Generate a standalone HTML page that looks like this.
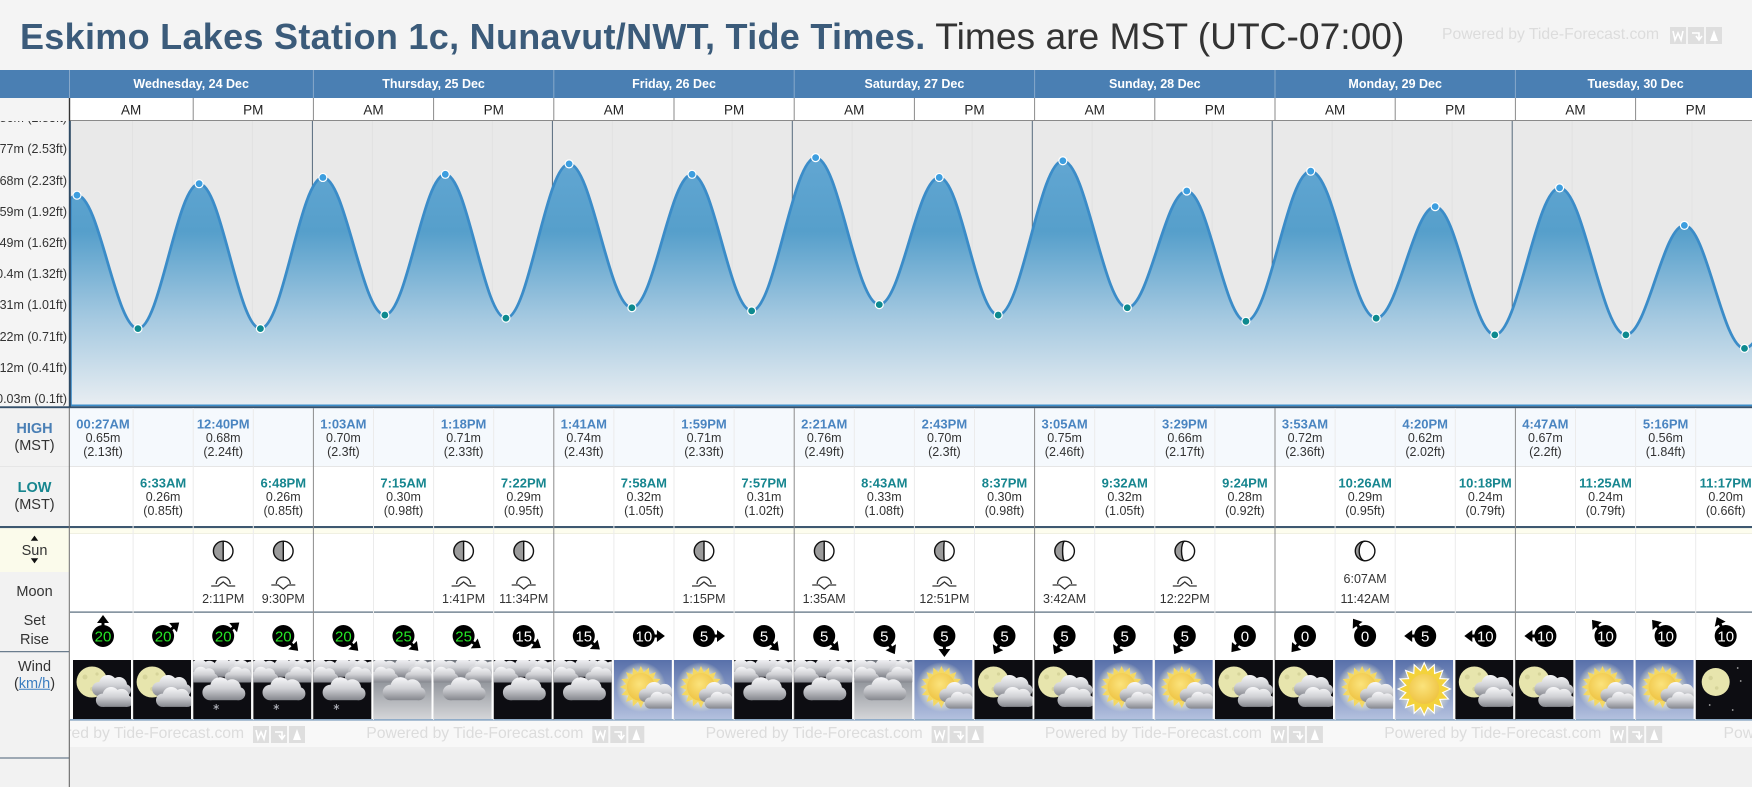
<!DOCTYPE html>
<html><head><meta charset="utf-8">
<style>
html,body{margin:0;padding:0;background:#f4f4f4;}
#r{position:relative;width:1752px;height:787px;overflow:hidden;background:#f4f4f4;font-family:"Liberation Sans",Arial,sans-serif;color:#333;}
.c{position:absolute;transform:translate(-50%,-50%);white-space:nowrap;line-height:1;}
.dh{font-size:12.5px;font-weight:bold;color:#fff;top:84px;}
.ap{font-size:13.5px;color:#222;top:109.5px;}
.ht{font-size:13px;font-weight:bold;color:#4a85c1;}
.lt{font-size:13px;font-weight:bold;color:#17868f;}
.v{font-size:12.5px;color:#333;}
.mt{font-size:12.5px;color:#333;top:599.3px;}
.lb{font-size:14.5px;color:#333;left:34.5px;}
.yl{position:absolute;right:1685px;transform:translateY(-50%);font-size:12.5px;line-height:1;white-space:nowrap;color:#333;}
.pw{position:absolute;font-size:15.7px;color:#dcdcdc;line-height:1;white-space:nowrap;transform:translateY(-50%);}
svg text.wn{font-family:"Liberation Sans",Arial,sans-serif;font-size:15px;fill:#fff;text-anchor:middle;}
svg text.wg{fill:#25e425;}
</style></head>
<body><div id="r">
<svg width="1752" height="787" viewBox="0 0 1752 787" xmlns="http://www.w3.org/2000/svg" style="position:absolute;left:0;top:0">
<defs>
<linearGradient id="ag" gradientUnits="userSpaceOnUse" x1="0" y1="150" x2="0" y2="406">
<stop offset="0" stop-color="#63a7d3"/><stop offset="0.32" stop-color="#569fcb"/><stop offset="0.65" stop-color="#a3c8e0"/><stop offset="1" stop-color="#e9eef2"/></linearGradient>
<clipPath id="cc"><rect x="70" y="121" width="1682" height="285"/></clipPath>
<linearGradient id="cg" gradientUnits="userSpaceOnUse" x1="0" y1="1" x2="0" y2="22"><stop offset="0" stop-color="#f8f8fa"/><stop offset="0.5" stop-color="#cfd0d4"/><stop offset="1" stop-color="#85878e"/></linearGradient>
<linearGradient id="sky" x1="0" y1="0" x2="0" y2="1"><stop offset="0" stop-color="#5870aa"/><stop offset="1" stop-color="#b3c0de"/></linearGradient>
<linearGradient id="ogd" x1="0" y1="0" x2="0" y2="1"><stop offset="0" stop-color="#6d727a"/><stop offset="1" stop-color="#d4d5d8"/></linearGradient>
<radialGradient id="glow"><stop offset="0.45" stop-color="#fffbd0" stop-opacity="1"/><stop offset="1" stop-color="#fffbd0" stop-opacity="0"/></radialGradient>
<radialGradient id="sd" cx="0.45" cy="0.4" r="0.6"><stop offset="0" stop-color="#fbe37c"/><stop offset="1" stop-color="#efc444"/></radialGradient>
<g id="cl" fill="url(#cg)"><circle cx="9" cy="15" r="7"/><circle cx="18" cy="10" r="9"/><circle cx="29" cy="11" r="8"/><circle cx="35" cy="16" r="6"/><rect x="9" y="12" width="26" height="10"/></g>
<polygon id="rays" points="21,0 14.71,2.93 19.4,8.04 12.47,8.33 14.85,14.85 8.33,12.47 8.04,19.4 2.93,14.71 0,21 -2.93,14.71 -8.04,19.4 -8.33,12.47 -14.85,14.85 -12.47,8.33 -19.4,8.04 -14.71,2.93 -21,0 -14.71,-2.93 -19.4,-8.04 -12.47,-8.33 -14.85,-14.85 -8.33,-12.47 -8.04,-19.4 -2.93,-14.71 0,-21 2.93,-14.71 8.04,-19.4 8.33,-12.47 14.85,-14.85 12.47,-8.33 19.4,-8.04 14.71,-2.93"/>
<g id="ovc"><use href="#cl" transform="translate(-10,-2) scale(0.9)"/><use href="#cl" transform="translate(13,-3) scale(0.9)"/><use href="#cl" transform="translate(33,-1) scale(0.85)"/><use href="#cl" transform="translate(-6,6) scale(0.75)"/><use href="#cl" transform="translate(30,6) scale(0.75)"/><use href="#cl" transform="translate(7,16) scale(1.1)"/></g>
<symbol id="mc" viewBox="0 0 58 59"><rect width="58" height="59" fill="#0d0d12"/><circle cx="19" cy="22" r="15.5" fill="#e7e5ad"/><circle cx="12" cy="17" r="2.5" fill="#d6d49a"/><circle cx="19" cy="29" r="2" fill="#d6d49a"/><circle cx="24" cy="14" r="1.6" fill="#d6d49a"/><use href="#cl" transform="translate(17,14)"/><use href="#cl" transform="translate(21,26) scale(0.95)"/></symbol>
<symbol id="oc" viewBox="0 0 58 59"><rect width="58" height="59" fill="#0d0d12"/><use href="#ovc"/></symbol>
<symbol id="ocs" viewBox="0 0 58 59"><rect width="58" height="59" fill="#0d0d12"/><use href="#ovc"/><path d="M23,44V50M20.4,45.5L25.6,48.5M20.4,48.5L25.6,45.5" stroke="#a8aab2" stroke-width="1"/></symbol>
<symbol id="od" viewBox="0 0 58 59"><rect width="58" height="59" fill="url(#ogd)"/><use href="#ovc"/></symbol>
<symbol id="sc" viewBox="0 0 58 59"><rect width="58" height="59" fill="url(#sky)"/><circle cx="27" cy="27" r="25" fill="url(#glow)"/><use href="#rays" transform="translate(27,27)" fill="#f4d862"/><circle cx="27" cy="27" r="14" fill="url(#sd)"/><use href="#cl" transform="translate(23,21) scale(0.95)"/><use href="#cl" transform="translate(29,31) scale(0.8)"/></symbol>
<symbol id="sn" viewBox="0 0 58 59"><rect width="58" height="59" fill="url(#sky)"/><circle cx="29" cy="29" r="28" fill="url(#glow)"/><use href="#rays" transform="translate(29,29) scale(1.25)" fill="#f3d23c" stroke="#fff" stroke-width="0.9"/><circle cx="29" cy="29" r="15" fill="url(#sd)"/></symbol>
<symbol id="mn" viewBox="0 0 58 59"><rect width="58" height="59" fill="#0d0d12"/><circle cx="20" cy="22" r="14" fill="#e7e5ad"/><circle cx="15" cy="18" r="2.2" fill="#d6d49a"/><circle cx="21" cy="28" r="1.8" fill="#d6d49a"/><circle cx="42" cy="8" r="0.9" fill="#aaa"/><circle cx="45" cy="21" r="0.9" fill="#aaa"/><circle cx="14" cy="45" r="0.9" fill="#aaa"/><circle cx="37" cy="50" r="0.9" fill="#aaa"/></symbol>
<g id="ar"><path d="M0,0H14" stroke="#000" stroke-width="3"/><path d="M21,0L13,-6L13,6Z" fill="#000"/></g>
<g id="pi"><rect x="0" y="0" width="16" height="17" fill="#dedede"/><path d="M3,4L5,13L8,6L11,13L13,4" stroke="#fff" stroke-width="1.6" fill="none"/><rect x="18" y="0" width="16" height="17" fill="#dedede"/><path d="M22,6H29V12M26,9L29,13L32,9" stroke="#fff" stroke-width="1.6" fill="none"/><rect x="36" y="0" width="16" height="17" fill="#dedede"/><path d="M44,3L48,14H40Z" fill="#fff"/></g>
</defs>

<!-- header -->
<rect x="0" y="70" width="1752" height="28" fill="#4a7fb3"/>
<rect x="69" y="98" width="1683" height="23" fill="#fff"/>
<g stroke="#87a8ca" stroke-width="1"><path d="M69.5,70V98M313.4,70V98M553.8,70V98M794.2,70V98M1034.6,70V98M1275,70V98M1515.4,70V98"/></g>
<g stroke="#8a8a8a" stroke-width="1"><path d="M193.2,98V121M313.4,98V121M433.6,98V121M553.8,98V121M674,98V121M794.2,98V121M914.4,98V121M1034.6,98V121M1154.8,98V121M1275,98V121M1395.2,98V121M1515.4,98V121M1635.6,98V121"/><path d="M69,120.5H1752"/></g>

<!-- chart -->
<g clip-path="url(#cc)">
<rect x="70" y="121" width="1682" height="285" fill="#e9e9e9"/>
<g stroke="#e2e2e2" stroke-width="1"><path d="M132.5,121V406M192.4,121V406M252.4,121V406M372.4,121V406M432.3,121V406M492.3,121V406M612.3,121V406M672.2,121V406M732.2,121V406M852.2,121V406M912.2,121V406M972.2,121V406M1092.2,121V406M1152.1,121V406M1212.1,121V406M1332.1,121V406M1392.1,121V406M1452.1,121V406M1572.1,121V406M1632.1,121V406M1692.0,121V406"/></g>
<g stroke="#566a7c" stroke-width="1"><path d="M312.4,121V406M552.4,121V406M792.3,121V406M1032.3,121V406M1272.2,121V406M1512.2,121V406"/></g>
<g transform="translate(72.5,0) scale(0.9995,1)">
<path fill="url(#ag)" d="M-57.5,328.6C-34.93,328.6 -18.07,195.17 4.5,195.17C26.7,195.17 43.3,328.6 65.5,328.6C87.77,328.6 104.4,183.7 126.67,183.7C148.99,183.7 165.68,328.6 188,328.6C210.75,328.6 227.75,177.45 250.5,177.45C273.07,177.45 289.93,315.04 312.5,315.04C334.52,315.04 350.98,174.32 373,174.32C395.08,174.32 411.59,318.17 433.67,318.17C456.66,318.17 473.84,163.9 496.83,163.9C519.7,163.9 536.8,307.75 559.67,307.75C581.57,307.75 597.93,174.32 619.83,174.32C641.55,174.32 657.78,310.88 679.5,310.88C702.8,310.88 720.2,157.64 743.5,157.64C766.68,157.64 783.99,304.62 807.17,304.62C829.01,304.62 845.33,177.45 867.17,177.45C888.65,177.45 904.69,315.04 926.17,315.04C949.71,315.04 967.29,160.77 990.83,160.77C1014.31,160.77 1031.85,307.75 1055.33,307.75C1076.99,307.75 1093.17,191 1114.83,191C1136.37,191 1152.46,321.3 1174,321.3C1197.6,321.3 1215.23,171.19 1238.83,171.19C1262.67,171.19 1280.49,318.17 1304.33,318.17C1325.81,318.17 1341.85,206.64 1363.33,206.64C1385.05,206.64 1401.28,334.85 1423,334.85C1446.6,334.85 1464.23,187.87 1487.83,187.87C1511.98,187.87 1530.02,334.85 1554.17,334.85C1575.46,334.85 1591.38,225.4 1612.67,225.4C1634.57,225.4 1650.93,348.4 1672.83,348.4C1696.92,348.4 1714.91,219.1 1739,219.1L1739,406L-57.5,406Z"/>
<path fill="none" stroke="#3b8cc8" stroke-width="2.8" d="M-57.5,328.6C-34.93,328.6 -18.07,195.17 4.5,195.17C26.7,195.17 43.3,328.6 65.5,328.6C87.77,328.6 104.4,183.7 126.67,183.7C148.99,183.7 165.68,328.6 188,328.6C210.75,328.6 227.75,177.45 250.5,177.45C273.07,177.45 289.93,315.04 312.5,315.04C334.52,315.04 350.98,174.32 373,174.32C395.08,174.32 411.59,318.17 433.67,318.17C456.66,318.17 473.84,163.9 496.83,163.9C519.7,163.9 536.8,307.75 559.67,307.75C581.57,307.75 597.93,174.32 619.83,174.32C641.55,174.32 657.78,310.88 679.5,310.88C702.8,310.88 720.2,157.64 743.5,157.64C766.68,157.64 783.99,304.62 807.17,304.62C829.01,304.62 845.33,177.45 867.17,177.45C888.65,177.45 904.69,315.04 926.17,315.04C949.71,315.04 967.29,160.77 990.83,160.77C1014.31,160.77 1031.85,307.75 1055.33,307.75C1076.99,307.75 1093.17,191 1114.83,191C1136.37,191 1152.46,321.3 1174,321.3C1197.6,321.3 1215.23,171.19 1238.83,171.19C1262.67,171.19 1280.49,318.17 1304.33,318.17C1325.81,318.17 1341.85,206.64 1363.33,206.64C1385.05,206.64 1401.28,334.85 1423,334.85C1446.6,334.85 1464.23,187.87 1487.83,187.87C1511.98,187.87 1530.02,334.85 1554.17,334.85C1575.46,334.85 1591.38,225.4 1612.67,225.4C1634.57,225.4 1650.93,348.4 1672.83,348.4C1696.92,348.4 1714.91,219.1 1739,219.1"/>
<g fill="#3d9edf" stroke="#fff" stroke-width="1.2">
<circle cx="4.5" cy="195.17" r="4"/><circle cx="126.67" cy="183.7" r="4"/><circle cx="250.5" cy="177.45" r="4"/><circle cx="373" cy="174.32" r="4"/><circle cx="496.83" cy="163.9" r="4"/><circle cx="619.83" cy="174.32" r="4"/><circle cx="743.5" cy="157.64" r="4"/><circle cx="867.17" cy="177.45" r="4"/><circle cx="990.83" cy="160.77" r="4"/><circle cx="1114.83" cy="191" r="4"/><circle cx="1238.83" cy="171.19" r="4"/><circle cx="1363.33" cy="206.64" r="4"/><circle cx="1487.83" cy="187.87" r="4"/><circle cx="1612.67" cy="225.4" r="4"/>
</g>
<g fill="#0e8a8f" stroke="#fff" stroke-width="1.2">
<circle cx="65.5" cy="328.6" r="4"/><circle cx="188" cy="328.6" r="4"/><circle cx="312.5" cy="315.04" r="4"/><circle cx="433.67" cy="318.17" r="4"/><circle cx="559.67" cy="307.75" r="4"/><circle cx="679.5" cy="310.88" r="4"/><circle cx="807.17" cy="304.62" r="4"/><circle cx="926.17" cy="315.04" r="4"/><circle cx="1055.33" cy="307.75" r="4"/><circle cx="1174" cy="321.3" r="4"/><circle cx="1304.33" cy="318.17" r="4"/><circle cx="1423" cy="334.85" r="4"/><circle cx="1554.17" cy="334.85" r="4"/><circle cx="1672.83" cy="348.4" r="4"/>
</g>
</g>
</g>
<rect x="70" y="199" width="1.8" height="207" fill="#3b8cc8"/>
<rect x="70" y="404.5" width="1682" height="1.8" fill="#3b8cc8"/>
<rect x="0" y="406.3" width="1752" height="2" fill="#34506b"/>
<rect x="68.8" y="98" width="1.4" height="23" fill="#333"/>
<rect x="68.8" y="121" width="2" height="286" fill="#2e4a64"/>

<!-- table backgrounds -->
<rect x="0" y="408.3" width="69" height="118" fill="#f2f2f2"/>
<rect x="70" y="408.3" width="1682" height="58" fill="#f5f9fd"/>
<rect x="70" y="466.3" width="1682" height="60" fill="#fff"/>
<rect x="0" y="466" width="1752" height="1" fill="#e6e6e6"/>
<rect x="0" y="526" width="1752" height="2.2" fill="#3e5870"/>
<rect x="0" y="528.2" width="69" height="44" fill="#fbfbeb"/>
<rect x="70" y="528.2" width="1682" height="5" fill="#fdfdee"/>
<rect x="70" y="533.2" width="1682" height="0.8" fill="#eeeede"/>
<rect x="70" y="534" width="1682" height="186" fill="#fff"/>
<rect x="0" y="572" width="69" height="215" fill="#f2f2f2"/>
<rect x="70" y="611.5" width="1682" height="1.2" fill="#56697b"/>
<rect x="70" y="719.3" width="1682" height="1.2" fill="#6089b0"/>
<rect x="70" y="720.5" width="1682" height="26.5" fill="#f8f8f8"/>
<rect x="70" y="747" width="1682" height="40" fill="#f0f0f0"/>
<rect x="0" y="651.2" width="69" height="1" fill="#4a6075"/>
<rect x="0" y="757.5" width="69" height="1" fill="#4a6075"/>
<rect x="68.8" y="408" width="1" height="379" fill="#6f6f6f"/>
<g stroke="#ebebeb" stroke-width="1"><path d="M133.1,408V720M193.2,408V720M253.3,408V720M373.5,408V720M433.6,408V720M493.7,408V720M613.9,408V720M674,408V720M734.1,408V720M854.3,408V720M914.4,408V720M974.5,408V720M1094.7,408V720M1154.8,408V720M1214.9,408V720M1335.1,408V720M1395.2,408V720M1455.3,408V720M1575.5,408V720M1635.6,408V720M1695.7,408V720"/></g>
<g stroke="#8c8c8c" stroke-width="1"><path d="M313.4,408V720M553.8,408V720M794.2,408V720M1034.6,408V720M1275,408V720M1515.4,408V720"/></g>

<!-- sun label arrows -->
<path d="M30.8,540.8L38.2,540.8L34.5,535.6Z M30.8,558.2L38.2,558.2L34.5,563.4Z" fill="#111"/>

<!-- moon phases -->
<g stroke-width="1.4">
<g transform="translate(223.2,551)"><circle r="9.8" fill="#fff"/><path d="M0,-9.8A9.8,9.8 0 0 0 0,9.8Z" fill="#9b9b9b"/><path d="M0,9.8V-9.8" stroke="#111" fill="none"/><circle r="9.8" fill="none" stroke="#111"/></g>
<g transform="translate(283.3,551)"><circle r="9.8" fill="#fff"/><path d="M0,-9.8A9.8,9.8 0 0 0 0,9.8Z" fill="#9b9b9b"/><path d="M0,9.8V-9.8" stroke="#111" fill="none"/><circle r="9.8" fill="none" stroke="#111"/></g>
<g transform="translate(463.6,551)"><circle r="9.8" fill="#fff"/><path d="M0,-9.8A9.8,9.8 0 0 0 0,9.8Z" fill="#9b9b9b"/><path d="M0,9.8V-9.8" stroke="#111" fill="none"/><circle r="9.8" fill="none" stroke="#111"/></g>
<g transform="translate(523.7,551)"><circle r="9.8" fill="#fff"/><path d="M0,-9.8A9.8,9.8 0 0 0 0,9.8Z" fill="#9b9b9b"/><path d="M0,9.8V-9.8" stroke="#111" fill="none"/><circle r="9.8" fill="none" stroke="#111"/></g>
<g transform="translate(704,551)"><circle r="9.8" fill="#fff"/><path d="M0,-9.8A9.8,9.8 0 0 0 0,9.8Z" fill="#9b9b9b"/><path d="M0,9.8V-9.8" stroke="#111" fill="none"/><circle r="9.8" fill="none" stroke="#111"/></g>
<g transform="translate(824.2,551)"><circle r="9.8" fill="#fff"/><path d="M0,-9.8A9.8,9.8 0 0 0 0,9.8Z" fill="#9b9b9b"/><path d="M0,9.8V-9.8" stroke="#111" fill="none"/><circle r="9.8" fill="none" stroke="#111"/></g>
<g transform="translate(944.4,551)"><circle r="9.8" fill="#fff"/><path d="M0,-9.8A9.8,9.8 0 0 0 0,9.8A0.6,9.8 0 0 1 0,-9.8Z" fill="#9b9b9b"/><path d="M0,9.8A0.6,9.8 0 0 1 0,-9.8" stroke="#111" fill="none"/><circle r="9.8" fill="none" stroke="#111"/></g>
<g transform="translate(1064.6,551)"><circle r="9.8" fill="#fff"/><path d="M0,-9.8A9.8,9.8 0 0 0 0,9.8A2,9.8 0 0 1 0,-9.8Z" fill="#9b9b9b"/><path d="M0,9.8A2,9.8 0 0 1 0,-9.8" stroke="#111" fill="none"/><circle r="9.8" fill="none" stroke="#111"/></g>
<g transform="translate(1184.8,551)"><circle r="9.8" fill="#fff"/><path d="M0,-9.8A9.8,9.8 0 0 0 0,9.8A3.3,9.8 0 0 1 0,-9.8Z" fill="#9b9b9b"/><path d="M0,9.8A3.3,9.8 0 0 1 0,-9.8" stroke="#111" fill="none"/><circle r="9.8" fill="none" stroke="#111"/></g>
<g transform="translate(1365.1,551)"><circle r="9.8" fill="#fff"/><path d="M0,-9.8A9.8,9.8 0 0 0 0,9.8A5.9,9.8 0 0 1 0,-9.8Z" fill="#9b9b9b"/><path d="M0,9.8A5.9,9.8 0 0 1 0,-9.8" stroke="#111" fill="none"/><circle r="9.8" fill="none" stroke="#111"/></g>
</g>
<!-- moon rise/set -->
<g stroke="#333" stroke-width="1.3" fill="none">
<path transform="translate(223.2,0)" d="M-7,584A7,7 0 0 1 7,584M-12,586H-5L0,582L5,586H12"/>
<path transform="translate(283.3,0)" d="M-7,584A7,7 0 0 1 7,584M-12,585H-5L0,589L5,585H12"/>
<path transform="translate(463.6,0)" d="M-7,584A7,7 0 0 1 7,584M-12,586H-5L0,582L5,586H12"/>
<path transform="translate(523.7,0)" d="M-7,584A7,7 0 0 1 7,584M-12,585H-5L0,589L5,585H12"/>
<path transform="translate(704,0)" d="M-7,584A7,7 0 0 1 7,584M-12,586H-5L0,582L5,586H12"/>
<path transform="translate(824.2,0)" d="M-7,584A7,7 0 0 1 7,584M-12,585H-5L0,589L5,585H12"/>
<path transform="translate(944.4,0)" d="M-7,584A7,7 0 0 1 7,584M-12,586H-5L0,582L5,586H12"/>
<path transform="translate(1064.6,0)" d="M-7,584A7,7 0 0 1 7,584M-12,585H-5L0,589L5,585H12"/>
<path transform="translate(1184.8,0)" d="M-7,584A7,7 0 0 1 7,584M-12,586H-5L0,582L5,586H12"/>
</g>

<!-- wind -->
<g transform="translate(103,636)"><use href="#ar" transform="rotate(-90)"/><circle r="11"/><text y="5.3" class="wn wg">20</text></g>
<g transform="translate(163.1,636)"><use href="#ar" transform="rotate(-40)"/><circle r="11"/><text y="5.3" class="wn wg">20</text></g>
<g transform="translate(223.2,636)"><use href="#ar" transform="rotate(-40)"/><circle r="11"/><text y="5.3" class="wn wg">20</text></g>
<g transform="translate(283.3,636)"><use href="#ar" transform="rotate(45)"/><circle r="11"/><text y="5.3" class="wn wg">20</text></g>
<g transform="translate(343.4,636)"><use href="#ar" transform="rotate(45)"/><circle r="11"/><text y="5.3" class="wn wg">20</text></g>
<g transform="translate(403.5,636)"><use href="#ar" transform="rotate(45)"/><circle r="11"/><text y="5.3" class="wn wg">25</text></g>
<g transform="translate(463.6,636)"><use href="#ar" transform="rotate(35)"/><circle r="11"/><text y="5.3" class="wn wg">25</text></g>
<g transform="translate(523.7,636)"><use href="#ar" transform="rotate(35)"/><circle r="11"/><text y="5.3" class="wn">15</text></g>
<g transform="translate(583.8,636)"><use href="#ar" transform="rotate(40)"/><circle r="11"/><text y="5.3" class="wn">15</text></g>
<g transform="translate(643.9,636)"><use href="#ar" transform="rotate(0)"/><circle r="11"/><text y="5.3" class="wn">10</text></g>
<g transform="translate(704,636)"><use href="#ar" transform="rotate(0)"/><circle r="11"/><text y="5.3" class="wn">5</text></g>
<g transform="translate(764.1,636)"><use href="#ar" transform="rotate(45)"/><circle r="11"/><text y="5.3" class="wn">5</text></g>
<g transform="translate(824.2,636)"><use href="#ar" transform="rotate(45)"/><circle r="11"/><text y="5.3" class="wn">5</text></g>
<g transform="translate(884.3,636)"><use href="#ar" transform="rotate(60)"/><circle r="11"/><text y="5.3" class="wn">5</text></g>
<g transform="translate(944.4,636)"><use href="#ar" transform="rotate(90)"/><circle r="11"/><text y="5.3" class="wn">5</text></g>
<g transform="translate(1004.5,636)"><use href="#ar" transform="rotate(120)"/><circle r="11"/><text y="5.3" class="wn">5</text></g>
<g transform="translate(1064.6,636)"><use href="#ar" transform="rotate(120)"/><circle r="11"/><text y="5.3" class="wn">5</text></g>
<g transform="translate(1124.7,636)"><use href="#ar" transform="rotate(120)"/><circle r="11"/><text y="5.3" class="wn">5</text></g>
<g transform="translate(1184.8,636)"><use href="#ar" transform="rotate(120)"/><circle r="11"/><text y="5.3" class="wn">5</text></g>
<g transform="translate(1244.9,636)"><use href="#ar" transform="rotate(130)"/><circle r="11"/><text y="5.3" class="wn">0</text></g>
<g transform="translate(1305,636)"><use href="#ar" transform="rotate(130)"/><circle r="11"/><text y="5.3" class="wn">0</text></g>
<g transform="translate(1365.1,636)"><use href="#ar" transform="rotate(-125)"/><circle r="11"/><text y="5.3" class="wn">0</text></g>
<g transform="translate(1425.2,636)"><use href="#ar" transform="rotate(180)"/><circle r="11"/><text y="5.3" class="wn">5</text></g>
<g transform="translate(1485.3,636)"><use href="#ar" transform="rotate(180)"/><circle r="11"/><text y="5.3" class="wn">10</text></g>
<g transform="translate(1545.4,636)"><use href="#ar" transform="rotate(180)"/><circle r="11"/><text y="5.3" class="wn">10</text></g>
<g transform="translate(1605.5,636)"><use href="#ar" transform="rotate(-130)"/><circle r="11"/><text y="5.3" class="wn">10</text></g>
<g transform="translate(1665.6,636)"><use href="#ar" transform="rotate(-130)"/><circle r="11"/><text y="5.3" class="wn">10</text></g>
<g transform="translate(1725.7,636)"><use href="#ar" transform="rotate(-115)"/><circle r="11"/><text y="5.3" class="wn">10</text></g>

<!-- weather tiles -->
<use href="#mc" x="73" y="660" width="58" height="59"/>
<use href="#mc" x="133.1" y="660" width="58" height="59"/>
<use href="#ocs" x="193.2" y="660" width="58" height="59"/>
<use href="#ocs" x="253.3" y="660" width="58" height="59"/>
<use href="#ocs" x="313.4" y="660" width="58" height="59"/>
<use href="#od" x="373.5" y="660" width="58" height="59"/>
<use href="#od" x="433.6" y="660" width="58" height="59"/>
<use href="#oc" x="493.7" y="660" width="58" height="59"/>
<use href="#oc" x="553.8" y="660" width="58" height="59"/>
<use href="#sc" x="613.9" y="660" width="58" height="59"/>
<use href="#sc" x="674" y="660" width="58" height="59"/>
<use href="#oc" x="734.1" y="660" width="58" height="59"/>
<use href="#oc" x="794.2" y="660" width="58" height="59"/>
<use href="#od" x="854.3" y="660" width="58" height="59"/>
<use href="#sc" x="914.4" y="660" width="58" height="59"/>
<use href="#mc" x="974.5" y="660" width="58" height="59"/>
<use href="#mc" x="1034.6" y="660" width="58" height="59"/>
<use href="#sc" x="1094.7" y="660" width="58" height="59"/>
<use href="#sc" x="1154.8" y="660" width="58" height="59"/>
<use href="#mc" x="1214.9" y="660" width="58" height="59"/>
<use href="#mc" x="1275" y="660" width="58" height="59"/>
<use href="#sc" x="1335.1" y="660" width="58" height="59"/>
<use href="#sn" x="1395.2" y="660" width="58" height="59"/>
<use href="#mc" x="1455.3" y="660" width="58" height="59"/>
<use href="#mc" x="1515.4" y="660" width="58" height="59"/>
<use href="#sc" x="1575.5" y="660" width="58" height="59"/>
<use href="#sc" x="1635.6" y="660" width="58" height="59"/>
<use href="#mn" x="1695.7" y="660" width="58" height="59"/>

<!-- powered icons -->
<use href="#pi" x="1670" y="27"/>
<use href="#pi" x="253" y="726"/>
<use href="#pi" x="592.3" y="726"/>
<use href="#pi" x="931.6" y="726"/>
<use href="#pi" x="1270.9" y="726"/>
<use href="#pi" x="1610.2" y="726"/>
<rect x="0" y="720" width="68.8" height="67" fill="#f2f2f2"/>
<rect x="0" y="757.5" width="69" height="1" fill="#4a6075"/>
<rect x="68.8" y="720" width="1" height="67" fill="#6f6f6f"/>
</svg>

<!-- title -->
<div style="position:absolute;left:20px;top:18px;font-size:36px;line-height:36px;white-space:nowrap"><b style="color:#3b5b7a;letter-spacing:0.3px">Eskimo Lakes Station 1c, Nunavut/NWT, Tide Times.</b><span style="color:#333;font-size:37.2px"> Times are MST (UTC-07:00)</span></div>
<div class="pw" style="left:1442px;top:35px">Powered by Tide-Forecast.com</div>

<!-- bottom powered row (clipped) -->
<div style="position:absolute;left:70px;top:720px;width:1682px;height:27px;overflow:hidden">
<div class="pw" style="left:-43px;top:14px">Powered by Tide-Forecast.com</div>
<div class="pw" style="left:296.3px;top:14px">Powered by Tide-Forecast.com</div>
<div class="pw" style="left:635.6px;top:14px">Powered by Tide-Forecast.com</div>
<div class="pw" style="left:974.9px;top:14px">Powered by Tide-Forecast.com</div>
<div class="pw" style="left:1314.2px;top:14px">Powered by Tide-Forecast.com</div>
<div class="pw" style="left:1653.5px;top:14px">Powered by Tide-Forecast.com</div>
</div>

<!-- header text -->
<div class="c dh" style="left:191.2px">Wednesday, 24 Dec</div>
<div class="c dh" style="left:433.6px">Thursday, 25 Dec</div>
<div class="c dh" style="left:674px">Friday, 26 Dec</div>
<div class="c dh" style="left:914.4px">Saturday, 27 Dec</div>
<div class="c dh" style="left:1154.8px">Sunday, 28 Dec</div>
<div class="c dh" style="left:1395.2px">Monday, 29 Dec</div>
<div class="c dh" style="left:1635.6px">Tuesday, 30 Dec</div>
<div class="c ap" style="left:131.1px">AM</div><div class="c ap" style="left:253.3px">PM</div>
<div class="c ap" style="left:373.5px">AM</div><div class="c ap" style="left:493.7px">PM</div>
<div class="c ap" style="left:613.9px">AM</div><div class="c ap" style="left:734.1px">PM</div>
<div class="c ap" style="left:854.3px">AM</div><div class="c ap" style="left:974.5px">PM</div>
<div class="c ap" style="left:1094.7px">AM</div><div class="c ap" style="left:1214.9px">PM</div>
<div class="c ap" style="left:1335.1px">AM</div><div class="c ap" style="left:1455.3px">PM</div>
<div class="c ap" style="left:1575.5px">AM</div><div class="c ap" style="left:1695.7px">PM</div>

<!-- y labels -->
<div style="position:absolute;left:0;top:121px;width:1752px;height:286px;overflow:hidden">
<div class="yl" style="top:-2.9px">0.86m (2.83ft)</div>
<div class="yl" style="top:28.3px">0.77m (2.53ft)</div>
<div class="yl" style="top:59.5px">0.68m (2.23ft)</div>
<div class="yl" style="top:90.7px">0.59m (1.92ft)</div>
<div class="yl" style="top:121.9px">0.49m (1.62ft)</div>
<div class="yl" style="top:153.1px">0.4m (1.32ft)</div>
<div class="yl" style="top:184.3px">0.31m (1.01ft)</div>
<div class="yl" style="top:215.5px">0.22m (0.71ft)</div>
<div class="yl" style="top:246.7px">0.12m (0.41ft)</div>
<div class="yl" style="top:277.9px">0.03m (0.1ft)</div>
</div>

<!-- left labels -->
<div class="c" style="left:34.5px;top:429px;font-size:14.5px;font-weight:bold;color:#4a7fb5">HIGH</div>
<div class="c lb" style="top:446px">(MST)</div>
<div class="c" style="left:34.5px;top:488.3px;font-size:14.5px;font-weight:bold;color:#17868f">LOW</div>
<div class="c lb" style="top:505px">(MST)</div>
<div class="c lb" style="top:550.7px">Sun</div>
<div class="c lb" style="top:592.3px">Moon</div>
<div class="c lb" style="top:620.7px">Set</div>
<div class="c lb" style="top:640px">Rise</div>
<div class="c lb" style="top:667.3px">Wind</div>
<div class="c lb" style="top:684.3px">(<span style="color:#3b7dc0;text-decoration:underline">km/h</span>)</div>

<!-- high row -->
<div class="c ht" style="left:103px;top:424px">00:27AM</div><div class="c v" style="left:103px;top:438px">0.65m</div><div class="c v" style="left:103px;top:452px">(2.13ft)</div>
<div class="c ht" style="left:223.2px;top:424px">12:40PM</div><div class="c v" style="left:223.2px;top:438px">0.68m</div><div class="c v" style="left:223.2px;top:452px">(2.24ft)</div>
<div class="c ht" style="left:343.4px;top:424px">1:03AM</div><div class="c v" style="left:343.4px;top:438px">0.70m</div><div class="c v" style="left:343.4px;top:452px">(2.3ft)</div>
<div class="c ht" style="left:463.6px;top:424px">1:18PM</div><div class="c v" style="left:463.6px;top:438px">0.71m</div><div class="c v" style="left:463.6px;top:452px">(2.33ft)</div>
<div class="c ht" style="left:583.8px;top:424px">1:41AM</div><div class="c v" style="left:583.8px;top:438px">0.74m</div><div class="c v" style="left:583.8px;top:452px">(2.43ft)</div>
<div class="c ht" style="left:704px;top:424px">1:59PM</div><div class="c v" style="left:704px;top:438px">0.71m</div><div class="c v" style="left:704px;top:452px">(2.33ft)</div>
<div class="c ht" style="left:824.2px;top:424px">2:21AM</div><div class="c v" style="left:824.2px;top:438px">0.76m</div><div class="c v" style="left:824.2px;top:452px">(2.49ft)</div>
<div class="c ht" style="left:944.4px;top:424px">2:43PM</div><div class="c v" style="left:944.4px;top:438px">0.70m</div><div class="c v" style="left:944.4px;top:452px">(2.3ft)</div>
<div class="c ht" style="left:1064.6px;top:424px">3:05AM</div><div class="c v" style="left:1064.6px;top:438px">0.75m</div><div class="c v" style="left:1064.6px;top:452px">(2.46ft)</div>
<div class="c ht" style="left:1184.8px;top:424px">3:29PM</div><div class="c v" style="left:1184.8px;top:438px">0.66m</div><div class="c v" style="left:1184.8px;top:452px">(2.17ft)</div>
<div class="c ht" style="left:1305px;top:424px">3:53AM</div><div class="c v" style="left:1305px;top:438px">0.72m</div><div class="c v" style="left:1305px;top:452px">(2.36ft)</div>
<div class="c ht" style="left:1425.2px;top:424px">4:20PM</div><div class="c v" style="left:1425.2px;top:438px">0.62m</div><div class="c v" style="left:1425.2px;top:452px">(2.02ft)</div>
<div class="c ht" style="left:1545.4px;top:424px">4:47AM</div><div class="c v" style="left:1545.4px;top:438px">0.67m</div><div class="c v" style="left:1545.4px;top:452px">(2.2ft)</div>
<div class="c ht" style="left:1665.6px;top:424px">5:16PM</div><div class="c v" style="left:1665.6px;top:438px">0.56m</div><div class="c v" style="left:1665.6px;top:452px">(1.84ft)</div>

<!-- low row -->
<div class="c lt" style="left:163.1px;top:482.7px">6:33AM</div><div class="c v" style="left:163.1px;top:496.7px">0.26m</div><div class="c v" style="left:163.1px;top:510.7px">(0.85ft)</div>
<div class="c lt" style="left:283.3px;top:482.7px">6:48PM</div><div class="c v" style="left:283.3px;top:496.7px">0.26m</div><div class="c v" style="left:283.3px;top:510.7px">(0.85ft)</div>
<div class="c lt" style="left:403.5px;top:482.7px">7:15AM</div><div class="c v" style="left:403.5px;top:496.7px">0.30m</div><div class="c v" style="left:403.5px;top:510.7px">(0.98ft)</div>
<div class="c lt" style="left:523.7px;top:482.7px">7:22PM</div><div class="c v" style="left:523.7px;top:496.7px">0.29m</div><div class="c v" style="left:523.7px;top:510.7px">(0.95ft)</div>
<div class="c lt" style="left:643.9px;top:482.7px">7:58AM</div><div class="c v" style="left:643.9px;top:496.7px">0.32m</div><div class="c v" style="left:643.9px;top:510.7px">(1.05ft)</div>
<div class="c lt" style="left:764.1px;top:482.7px">7:57PM</div><div class="c v" style="left:764.1px;top:496.7px">0.31m</div><div class="c v" style="left:764.1px;top:510.7px">(1.02ft)</div>
<div class="c lt" style="left:884.3px;top:482.7px">8:43AM</div><div class="c v" style="left:884.3px;top:496.7px">0.33m</div><div class="c v" style="left:884.3px;top:510.7px">(1.08ft)</div>
<div class="c lt" style="left:1004.5px;top:482.7px">8:37PM</div><div class="c v" style="left:1004.5px;top:496.7px">0.30m</div><div class="c v" style="left:1004.5px;top:510.7px">(0.98ft)</div>
<div class="c lt" style="left:1124.7px;top:482.7px">9:32AM</div><div class="c v" style="left:1124.7px;top:496.7px">0.32m</div><div class="c v" style="left:1124.7px;top:510.7px">(1.05ft)</div>
<div class="c lt" style="left:1244.9px;top:482.7px">9:24PM</div><div class="c v" style="left:1244.9px;top:496.7px">0.28m</div><div class="c v" style="left:1244.9px;top:510.7px">(0.92ft)</div>
<div class="c lt" style="left:1365.1px;top:482.7px">10:26AM</div><div class="c v" style="left:1365.1px;top:496.7px">0.29m</div><div class="c v" style="left:1365.1px;top:510.7px">(0.95ft)</div>
<div class="c lt" style="left:1485.3px;top:482.7px">10:18PM</div><div class="c v" style="left:1485.3px;top:496.7px">0.24m</div><div class="c v" style="left:1485.3px;top:510.7px">(0.79ft)</div>
<div class="c lt" style="left:1605.5px;top:482.7px">11:25AM</div><div class="c v" style="left:1605.5px;top:496.7px">0.24m</div><div class="c v" style="left:1605.5px;top:510.7px">(0.79ft)</div>
<div class="c lt" style="left:1725.7px;top:482.7px">11:17PM</div><div class="c v" style="left:1725.7px;top:496.7px">0.20m</div><div class="c v" style="left:1725.7px;top:510.7px">(0.66ft)</div>

<!-- moon times -->
<div class="c mt" style="left:223.2px">2:11PM</div>
<div class="c mt" style="left:283.3px">9:30PM</div>
<div class="c mt" style="left:463.6px">1:41PM</div>
<div class="c mt" style="left:523.7px">11:34PM</div>
<div class="c mt" style="left:704px">1:15PM</div>
<div class="c mt" style="left:824.2px">1:35AM</div>
<div class="c mt" style="left:944.4px">12:51PM</div>
<div class="c mt" style="left:1064.6px">3:42AM</div>
<div class="c mt" style="left:1184.8px">12:22PM</div>
<div class="c mt" style="left:1365.1px;top:579.3px">6:07AM</div>
<div class="c mt" style="left:1365.1px">11:42AM</div>
</div></body></html>
